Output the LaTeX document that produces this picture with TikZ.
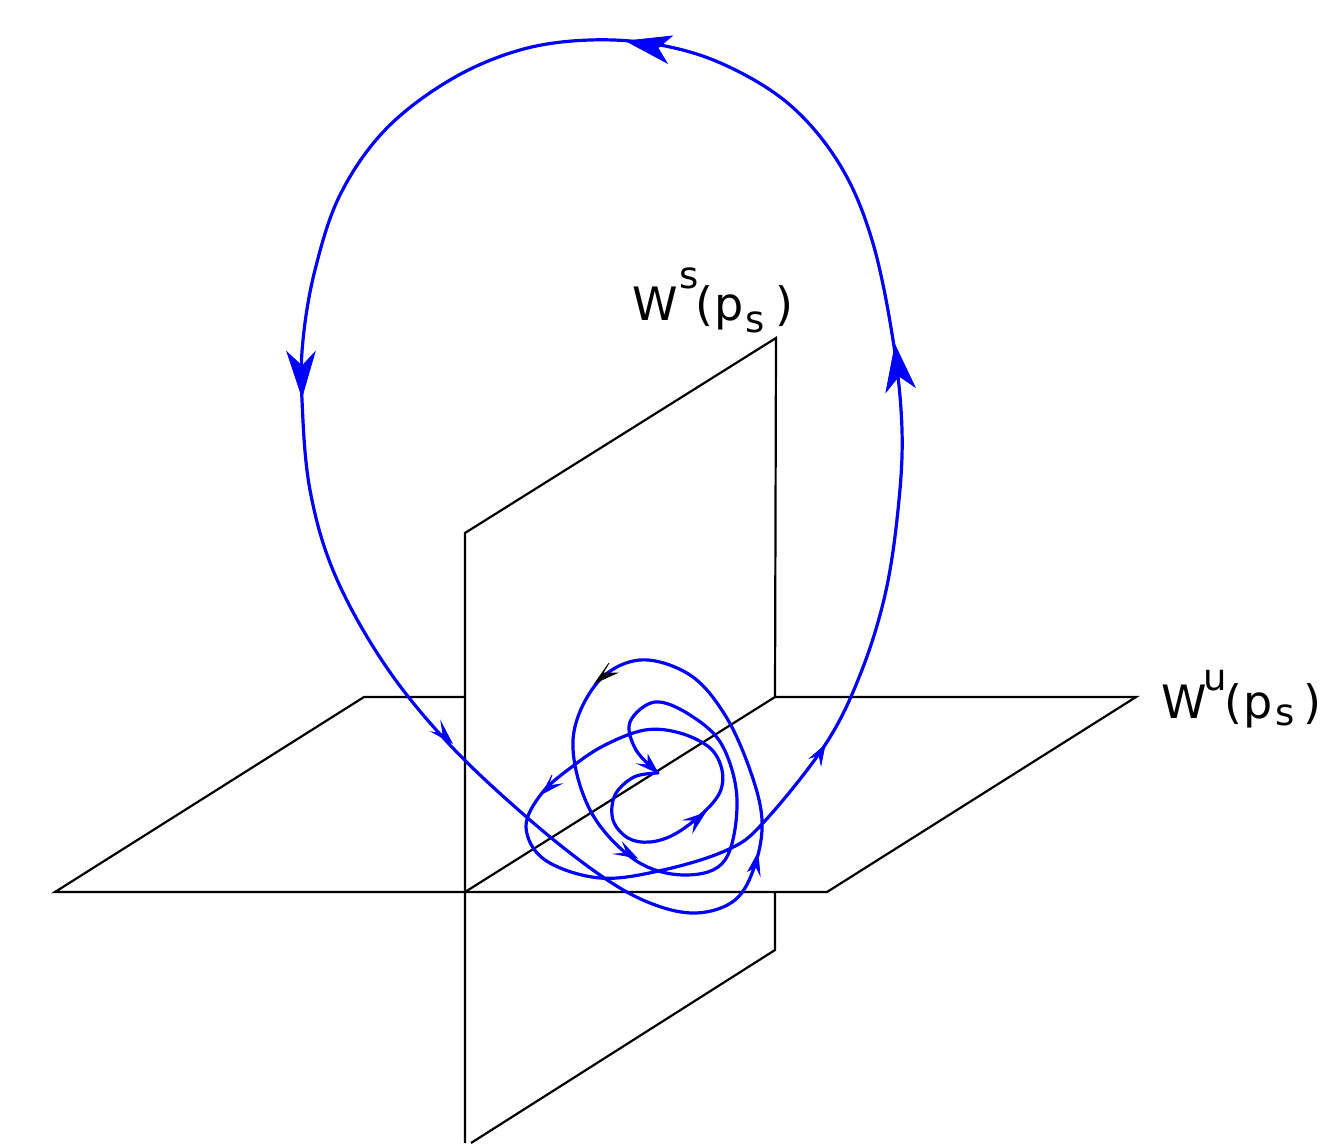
\documentclass[tikz,border=0pt]{standalone}
\usepackage{fontspec}
\setmainfont{DejaVu Sans}
\newcommand{\headA}[5]{\filldraw[#5,line width=0.8pt,line join=miter] (#1) -- (#2) -- (#3) -- (#4) -- cycle;}
\tikzset{
  plane/.style={black,line width=2.2pt,line join=miter},
  orbit/.style={blue,line width=3.2pt,line cap=round},
  labeltext/.style={inner sep=0pt,outer sep=0pt,anchor=base west,black,font=\fontsize{46}{46}\selectfont},
  smalltext/.style={inner sep=0pt,outer sep=0pt,anchor=base west,black,font=\fontsize{37}{37}\selectfont}
}
\begin{document}
\begin{tikzpicture}[x=1pt,y=-1pt]
\useasboundingbox (0,0) rectangle (1330,1143);
% planes
\coordinate (h1) at (55,892); \coordinate (h2) at (364,697); \coordinate (h3) at (465,697);
\coordinate (h4) at (775,697); \coordinate (h5) at (1136,697); \coordinate (h6) at (827,892);
\coordinate (v1) at (465,1143); \coordinate (v2) at (465,533); \coordinate (v3) at (776,338);
\coordinate (v4) at (465,892); \coordinate (v5) at (775,892); \coordinate (v6) at (775,950); \coordinate (v7) at (471,1143);
\draw[plane] (h3) -- (h2) -- (h1) -- (h6) -- (h5) -- (h4);
\draw[plane] (v1) -- (v2) -- (v3) -- (h4) -- (v4);
\draw[plane] (v5) -- (v6) -- (v7);
% orbit
\draw[orbit] plot[smooth,tension=0.6] coordinates {
(658,773) (634,777) (615,795) (613,820) (628,838) (650,842) (675,834) (703,813) (720,792) (722,770) (710,748) (680,733) (645,730) (605,745) (573,766) (542,793) (526,827) (545,860) (600,878) (663,870) (727,850) (763,823) (825,745) (860,675) (885,595) (898,510) (902,430) (893,340) (872,240) (840,165) (790,105) (725,65) (660,45) (590,40) (520,50) (450,80) (385,130) (340,195) (315,270) (303,340) (302,400) (310,490) (335,575) (385,665) (450,745) (530,820) (600,875) (650,903) (696,913) (735,900) (755,865) (762,820) (750,770) (725,715) (690,675) (640,660) (597,683) (573,740) (590,810) (635,860) (685,875) (725,860) (737,800) (722,745) (690,715) (655,702) (630,722) (636,750) (658,773)};
% arrowheads
\headA{626,41}{672,36}{658,48}{667,63}{blue}
\headA{302,397}{287,352}{302,366}{315,352}{blue}
\headA{895,345}{886,392}{899,376}{915,387}{blue}
\headA{825,745}{810,758}{819,755}{821,765}{blue}
\headA{595,683}{609,663}{603,673}{617,673}{black}
\headA{658,773}{648,755}{648,765}{638,764}{blue}
\headA{705,813}{684,820}{695,820}{693,832}{blue}
\headA{542,794}{552,775}{548,786}{561,784}{blue}
\headA{637,858}{623,843}{627,853}{615,854}{blue}
\headA{758,853}{748,871}{756,867}{760,875}{blue}
\headA{452,743}{441,722}{443,734}{432,732}{blue}
% labels
\node[labeltext] (ws) at (632,320) {W};
\node[smalltext] (wss) at (679,288) {s};
\node[labeltext] (wsp) at (695,320) {(\kern2pt p};
\node[smalltext] (wsq) at (745,332) {s};
\node[labeltext] (wsc) at (775,320) {)};
\node[labeltext] (wu) at (1161,718) {W};
\node[smalltext] (wuu) at (1203,690) {u};
\node[labeltext] (wup) at (1224,718) {(\kern2pt p};
\node[smalltext] (wuq) at (1275,725) {s};
\node[labeltext] (wuc) at (1303,718) {)};
\end{tikzpicture}
\end{document}
